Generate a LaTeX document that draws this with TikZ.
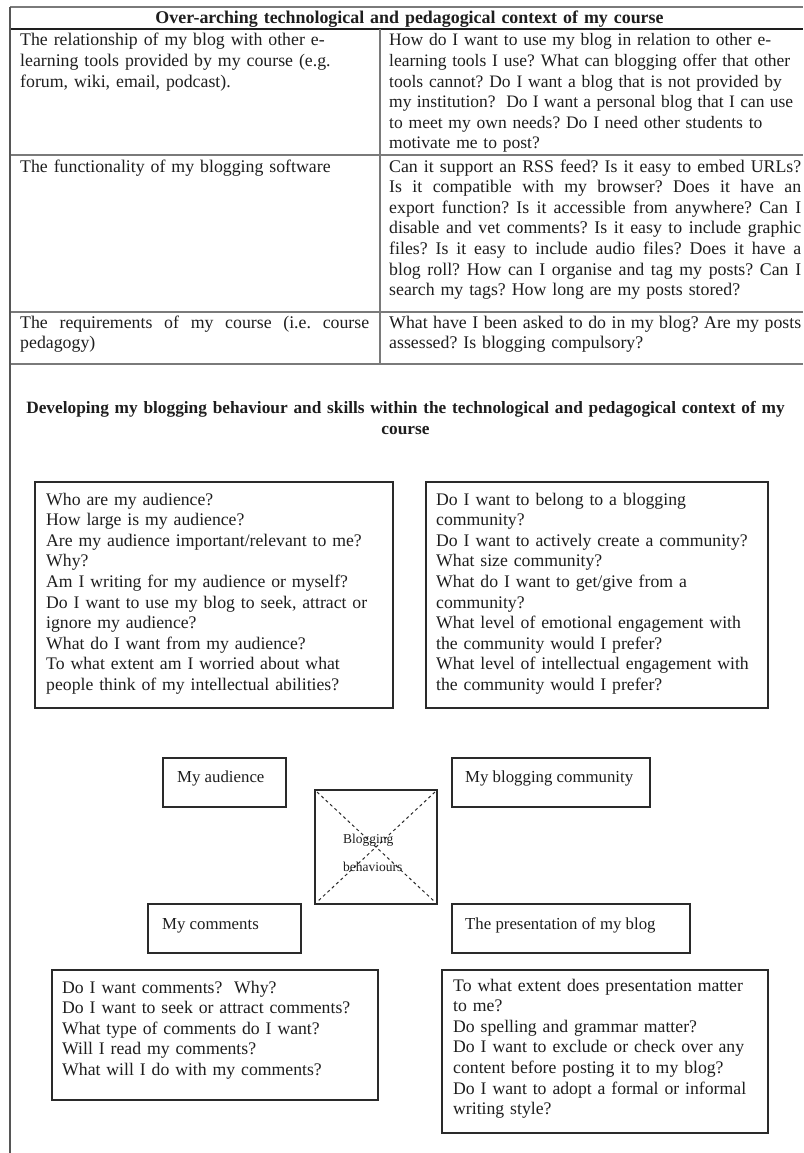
\documentclass[tikz,border=0pt]{standalone}
\usepackage{fontspec}
\setmainfont{Liberation Serif}
\frenchspacing
\definecolor{ink}{HTML}{1E1E1E}
\definecolor{rule}{HTML}{7A7A7A}
\definecolor{boxline}{HTML}{2A2A2A}
\newcommand\fitline[2]{\leavevmode\hbox to #1pt{\spaceskip=.25em plus .8em minus .15em\relax #2}}
\begin{document}
\begin{tikzpicture}[x=1pt,y=-1pt,
  body/.style={font=\fontsize{17.7}{20.6}\selectfont\frenchspacing, inner sep=0pt, anchor=base west, align=left, text=ink},
  cell/.style={font=\fontsize{17.8}{20.6}\selectfont\frenchspacing, inner sep=0pt, anchor=base west, align=left, text=ink},
  label/.style={font=\fontsize{16.8}{20}\selectfont, inner sep=0pt, anchor=base west, text=ink},
  head/.style={font=\fontsize{17.9}{21}\selectfont\bfseries\frenchspacing, inner sep=0pt, anchor=base, align=center, text=ink},
  small/.style={font=\fontsize{13.5}{14}\selectfont, inner sep=0pt, anchor=base west, text=ink},
  tline/.style={draw=rule, line width=1.5pt},
  vline/.style={draw=ink!75, line width=1.2pt},
  thickbox/.style={draw=boxline, line width=2.6pt},
  thinbox/.style={draw=boxline, line width=1.2pt},
  diag/.style={draw=boxline, line width=1pt, dashed}
]
\useasboundingbox (0,0) rectangle (803,1153);
\fill[white] (0,0) rectangle (803,1153);

% table rules
\draw[tline] (10,7) -- (803,7);
\draw[tline, draw=ink] (10,29) -- (803,29);
\draw[tline] (10,155) -- (803,155);
\draw[tline] (10,312) -- (803,312);
\draw[tline] (10,364) -- (803,364);
\draw[tline] (380,29) -- (380,364);
\draw[vline] (10,7) -- (10,1153);

% header
\node[head, text width=780pt] (hdr) at (409.5,24) {Over-arching technological and pedagogical context of my course};

% row 1
\node[cell, text width=380pt] (r1l) at (20,46) {The relationship of my blog with other e-\\learning tools provided by my course (e.g.\\forum, wiki, email, podcast).};
\node[cell, text width=440pt, font=\fontsize{17.5}{20.6}\selectfont\frenchspacing] (r1r) at (389,46) {How do I want to use my blog in relation to other e-\\learning tools I use? What can blogging offer that other\\tools cannot? Do I want a blog that is not provided by\\\fitline{404}{my institution?\ \ Do I want a personal blog that I can use}\\to meet my own needs? Do I need other students to\\motivate me to post?};

% row 2
\node[cell, text width=380pt] (r2l) at (20,172) {The functionality of my blogging software};
\node[cell, text width=440pt] (r2r) at (389,172) {\fitline{412}{Can it support an RSS feed? Is it easy to embed URLs?}\\\fitline{412}{Is it compatible with my browser? Does it have an}\\\fitline{412}{export function? Is it accessible from anywhere? Can I}\\\fitline{412}{disable and vet comments? Is it easy to include graphic}\\\fitline{412}{files? Is it easy to include audio files? Does it have a}\\\fitline{412}{blog roll? How can I organise and tag my posts? Can I}\\search my tags? How long are my posts stored?};

% row 3
\node[cell, text width=380pt] (r3l) at (20,328) {\fitline{349}{The requirements of my course (i.e. course}\\pedagogy)};
\node[cell, text width=440pt] (r3r) at (389,328) {\fitline{412}{What have I been asked to do in my blog? Are my posts}\\assessed? Is blogging compulsory?};

% section title
\node[head, text width=800pt, font=\fontsize{17.3}{21}\selectfont\bfseries] (sect) at (405.5,413) {Developing my blogging behaviour and skills within the technological and pedagogical context of my\\course};

% big question boxes
\draw[thickbox] (35,482) rectangle (393,708);
\draw[thickbox] (426,482) rectangle (768,708);
\draw[thickbox] (52,970) rectangle (378,1100);
\draw[thickbox] (442,970) rectangle (768,1133);

\node[body, text width=360pt] (qa) at (46,505) {Who are my audience?\\How large is my audience?\\Are my audience important/relevant to me?\\Why?\\Am I writing for my audience or myself?\\Do I want to use my blog to seek, attract or\\ignore my audience?\\What do I want from my audience?\\To what extent am I worried about what\\people think of my intellectual abilities?};
\node[body, text width=360pt] (qb) at (436,505) {Do I want to belong to a blogging\\community?\\Do I want to actively create a community?\\What size community?\\What do I want to get/give from a\\community?\\What level of emotional engagement with\\the community would I prefer?\\What level of intellectual engagement with\\the community would I prefer?};
\node[body, text width=340pt] (qc) at (62,993) {Do I want comments?\ \ Why?\\Do I want to seek or attract comments?\\What type of comments do I want?\\Will I read my comments?\\What will I do with my comments?};
\node[body, text width=340pt] (qd) at (453,991) {To what extent does presentation matter\\to me?\\Do spelling and grammar matter?\\Do I want to exclude or check over any\\content before posting it to my blog?\\Do I want to adopt a formal or informal\\writing style?};

% label boxes
\draw[thinbox] (163,758) rectangle (286,807);
\draw[thinbox] (452,758) rectangle (650,807);
\draw[thinbox] (148,904) rectangle (301,953);
\draw[thinbox] (452,904) rectangle (690,953);
\node[label] (laud) at (177,782) {My audience};
\node[label] (lcom) at (465,782) {My blogging community};
\node[label] (lcmt) at (162,929) {My comments};
\node[label] (lpre) at (465,929) {The presentation of my blog};

% central box
\draw[thinbox] (315,790) rectangle (437,904);
\draw[diag] (317,792) -- (435,902);
\draw[diag] (435,792) -- (317,902);
\node[small] (cb1) at (343,843) {Blogging};
\node[small] (cb2) at (343,871) {behaviours};
\end{tikzpicture}
\end{document}
